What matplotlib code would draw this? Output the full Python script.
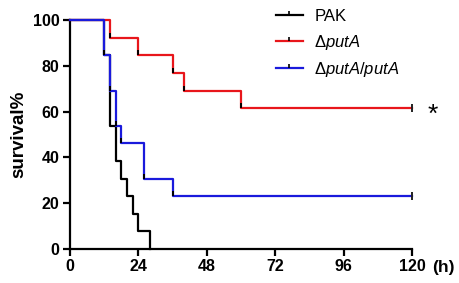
import matplotlib
matplotlib.use("Agg")
import matplotlib.pyplot as plt
from matplotlib.lines import Line2D

plt.rcParams["font.family"] = "Liberation Sans"
plt.rcParams["mathtext.fontset"] = "custom"
plt.rcParams["mathtext.it"] = "Liberation Sans:italic"
plt.rcParams["mathtext.rm"] = "Liberation Sans"

# ── Kaplan-Meier data (hours, survival %) ─────────────────────────
pak_t   = [0, 12, 14, 16, 18, 20, 22, 24, 28]
pak_s   = [100, 84.6, 53.8, 38.5, 30.8, 23.1, 15.4, 7.7, 0]
puta_t  = [0, 14, 24, 36, 40, 60, 120]
puta_s  = [100, 92.3, 84.6, 76.9, 69.2, 61.5, 61.5]
comp_t  = [0, 12, 14, 16, 18, 26, 36, 120]
comp_s  = [100, 84.6, 69.2, 53.8, 46.2, 30.8, 23.1, 23.1]

labels  = ["PAK", r"Δ$\mathit{putA}$", r"Δ$\mathit{putA/putA}$"]
colors  = ["black", "#e8161b", "#1a1adc"]
x_ticks = [0, 24, 48, 72, 96, 120]
y_ticks = [0, 20, 40, 60, 80, 100]

# tick pointing up from the line (GraphPad style)
up_tick = [(0, 0), (0, 1)]

fig = plt.figure(figsize=(4.59, 2.83), dpi=100)
ax = fig.add_axes([0.1525, 0.12, 0.745, 0.809])

series = [(pak_t, pak_s), (puta_t, puta_s), (comp_t, comp_s)]
for (t, s), c in zip(series, colors):
    ax.step(t, s, where="post", color=c, lw=1.6, clip_on=False, zorder=3)
    censored = t[-1] == 120
    drops_t = t[1:-1] if censored else t[1:]
    drops_s = s[1:-1] if censored else s[1:]
    # black ticks at the foot of each drop
    ax.plot(drops_t, drops_s, ls="none", marker=up_tick, ms=7, mew=1.4,
            color="black", clip_on=False, zorder=4)
    if censored:
        ax.plot([t[-1]], [s[-1]], ls="none", marker="|", ms=6, mew=1.4,
                color="#222222", clip_on=False, zorder=4)

ax.set_xlim(0, 120)
ax.set_ylim(0, 100)
ax.set_xticks(x_ticks)
ax.set_yticks(y_ticks)
for lab in ax.get_xticklabels() + ax.get_yticklabels():
    lab.set_fontweight("bold")
ax.tick_params(labelsize=11.5, width=1.6, length=5, direction="out", pad=2.5)
for side in ["top", "right"]:
    ax.spines[side].set_visible(False)
for side in ["left", "bottom"]:
    ax.spines[side].set_linewidth(1.6)

ax.set_ylabel("survival%", fontsize=13.5, fontweight="bold", labelpad=4)
ax.text(1.06, -0.082, "(h)", transform=ax.transAxes, fontsize=12.5,
        fontweight="bold", ha="left", va="center")
ax.text(127.2, 58.5, "*", fontsize=19, ha="center", va="center", clip_on=False)

handles = [Line2D([0], [0], color=c, lw=1.6, marker=up_tick, ms=6, mew=1.2,
                  markeredgecolor="black") for c in colors]
ax.legend(handles, labels, loc="upper left", bbox_to_anchor=(0.578, 1.085),
          frameon=False, fontsize=12, handlelength=1.6, handletextpad=0.7,
          labelspacing=0.52, borderpad=0)

fig.savefig("out.png", dpi=100)
